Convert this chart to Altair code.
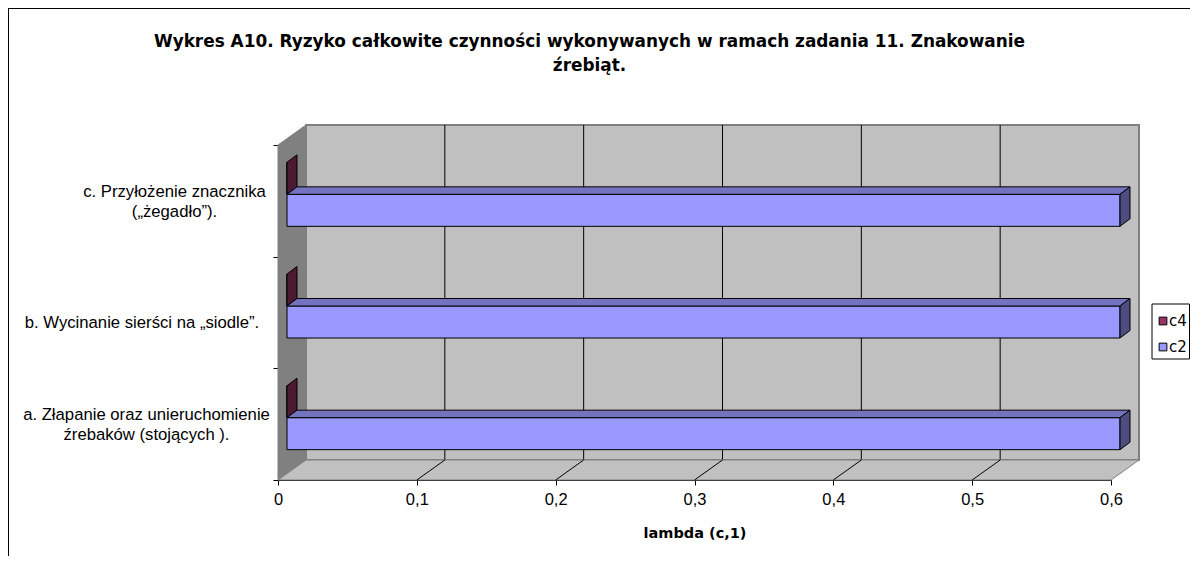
import altair as alt
import pandas as pd

# ---------------- data ----------------
categories = [
    "a. Złapanie oraz unieruchomienie\nźrebaków (stojących ).",
    "b. Wycinanie sierści na „siodle”.",
    "c. Przyłożenie znacznika\n(„żegadło”).",
]
series_names = ["c4", "c2"]
c4_values = [0.0, 0.0, 0.0]
c2_values = [0.6, 0.6, 0.6]
x_ticks = [0, 0.1, 0.2, 0.3, 0.4, 0.5, 0.6]
title_lines = [
    "Wykres A10. Ryzyko całkowite czynności wykonywanych w ramach zadania 11. Znakowanie",
    "źrebiąt.",
]
x_title = "lambda (c,1)"

# ---------------- style ----------------
FONT = "Liberation Sans"
TFONT = "DejaVu Sans"
W, H = 833, 335
XMAX = x_ticks[-1]
NCAT = len(categories)
PX = XMAX / W          # data units per pixel (x)
PY = NCAT / H          # data units per pixel (y)
WALL_DX, WALL_DY = 28, 20
BAR_OX, BAR_OY = 9, 6.5
BAR_DX, BAR_DY = 10, 7.5
BAR_H = 32
COLORS = {
    "c4": ("#993366", "#73264D", "#4D1A33"),
    "c2": ("#9999FF", "#7373BF", "#4D4D80"),
}
WALL_FILL = "#C0C0C0"
SIDE_FILL = "#808080"
EDGE = "#808080"
LABEL_CX = [-131.5, -136, -103.5]   # pixel centre of each category label block
LABEL_DY = [1, 10, 1]
LABEL_FS = 16.7
LABEL_LH = 20.5

xs = alt.Scale(domain=[0, XMAX], nice=False, zero=False)
ys = alt.Scale(domain=[0, NCAT], nice=False, zero=False)

X_AXIS = alt.Axis(
    values=x_ticks, title=x_title, grid=False,
    labelExpr="replace(format(datum.value, '~g'), '.', ',')",
    domainColor="black", tickColor="black", tickSize=5, labelPadding=6,
    labelFont=FONT, labelFontSize=16.5, labelColor="black", labelFlush=False,
    titleFont=TFONT, titleFontSize=14.5, titleFontWeight="bold", titleColor="black",
    titlePadding=19)
Y_AXIS = alt.Axis(
    values=list(range(NCAT + 1)), labels=False, title=None, grid=False,
    domainColor="black", tickColor="black", tickSize=5)


def X(field):
    return alt.X(field, scale=xs, axis=X_AXIS)


def Y(field):
    return alt.Y(field, scale=ys, axis=Y_AXIS, stack=None)


def vpara(rows, gid, x, ylo, yhi, dx, dy, fill, stroke):
    rows.append({"g": gid, "x": x, "y": ylo, "y2": yhi, "fill": fill, "stroke": stroke})
    rows.append({"g": gid, "x": x + dx, "y": ylo + dy, "y2": yhi + dy, "fill": fill, "stroke": stroke})


def hpara(rows, gid, xlo, xhi, y, dx, dy, fill, stroke):
    for xx, a, b in [(xlo, y, y), (xlo + dx, y, y + dy), (xhi, y, y + dy), (xhi + dx, y + dy, y + dy)]:
        rows.append({"g": gid, "x": xx, "y": a, "y2": b, "fill": fill, "stroke": stroke})


def area_layer(df):
    return alt.Chart(df).mark_area(strokeWidth=1, interpolate="linear", strokeJoin="miter").encode(
        x=X("x:Q"), y=Y("y:Q"), y2="y2:Q",
        fill=alt.Fill("fill:N", scale=None),
        stroke=alt.Stroke("stroke:N", scale=None),
        detail="g:N",
    )


wdx, wdy = WALL_DX * PX, WALL_DY * PY

# ---- back wall ----
back_df = pd.DataFrame({"x": [wdx], "x2": [XMAX + wdx], "y": [wdy], "y2": [NCAT + wdy]})
back = alt.Chart(back_df).mark_rect(fill=WALL_FILL, stroke=EDGE, strokeWidth=2).encode(
    x=X("x:Q"), x2="x2:Q", y=Y("y:Q"), y2="y2:Q")

# ---- back wall gridlines ----
grid_df = pd.DataFrame({"x": [v + wdx for v in x_ticks[1:-1]]})
grid_df["y"] = wdy
grid_df["y2"] = NCAT + wdy
grid = alt.Chart(grid_df).mark_rule(color="black", strokeWidth=1).encode(
    x=X("x:Q"), y=Y("y:Q"), y2="y2:Q")

# ---- side wall and floor ----
wall_rows = []
vpara(wall_rows, "side", 0, 0, NCAT, wdx, wdy, SIDE_FILL, EDGE)
hpara(wall_rows, "floor", 0, XMAX, 0, wdx, wdy, WALL_FILL, EDGE)
walls = area_layer(pd.DataFrame(wall_rows))

# ---- floor gridlines ----
fl_df = pd.DataFrame({"x": x_ticks[1:-1]})
fl_df["x2"] = fl_df["x"] + wdx
fl_df["y"] = 0.0
fl_df["y2"] = wdy
floor_grid = alt.Chart(fl_df).mark_rule(color="black", strokeWidth=1).encode(
    x=X("x:Q"), x2="x2:Q", y=Y("y:Q"), y2="y2:Q")

# ---- bars ----
bar_rows = []
front_rows = []
values = {"c4": c4_values, "c2": c2_values}
for i, cat in enumerate(categories):
    yc = i + 0.5
    for j, s in enumerate(series_names):
        v = values[s][i]
        front, top, side = COLORS[s]
        ytop = yc + (1 - j) * BAR_H * PY + BAR_OY * PY
        ybot = ytop - BAR_H * PY
        x0 = BAR_OX * PX
        x1 = v + BAR_OX * PX
        front_rows.append({"x": x0, "x2": x1, "y": ybot, "y2": ytop, "fill": front})
        if x1 - x0 > BAR_DX * PX:
            hpara(bar_rows, f"top{i}{s}", x0, x1, ytop, BAR_DX * PX, BAR_DY * PY, top, "black")
        vpara(bar_rows, f"side{i}{s}", x1, ybot, ytop, BAR_DX * PX, BAR_DY * PY, side, "black")

bar_faces = alt.Chart(pd.DataFrame(front_rows)).mark_rect(stroke="black", strokeWidth=1).encode(
    x=X("x:Q"), x2="x2:Q", y=Y("y:Q"), y2="y2:Q",
    fill=alt.Fill("fill:N", scale=None))
bar_3d = area_layer(pd.DataFrame(bar_rows))

# ---- category labels ----
lab_df = pd.DataFrame({"label": categories})
lab_df["px"] = LABEL_CX
lab_df["py"] = [H - (i + 0.5) * H / NCAT + LABEL_DY[i] - (c.count("\n")) * LABEL_LH / 2
                for i, c in enumerate(categories)]
labels = alt.Chart(lab_df).mark_text(
    align="center", baseline="middle", lineBreak="\n", lineHeight=LABEL_LH,
    font=FONT, fontSize=LABEL_FS, color="black").encode(
    x=alt.X("px:Q", scale=None), y=alt.Y("py:Q", scale=None), text="label:N")

# ---- title ----
title_df = pd.DataFrame({"t": ["\n".join(title_lines)]})
title = alt.Chart(title_df).mark_text(
    align="center", baseline="middle", lineBreak="\n", lineHeight=24,
    font=TFONT, fontSize=16.9, fontWeight="bold", color="black").encode(
    x=alt.value(311.5), y=alt.value(-103), text="t:N")

# ---- legend ----
leg_df = pd.DataFrame({"name": series_names, "color": [COLORS[s][0] for s in series_names]})
leg_df["py"] = [176 + 26 * k for k in range(len(series_names))]
leg_box = alt.Chart(pd.DataFrame({"k": [0]})).mark_rect(
    fill="white", stroke="black", strokeWidth=1).encode(
    x=alt.value(874), x2=alt.value(911.5), y=alt.value(159), y2=alt.value(214))
leg_sym = alt.Chart(leg_df).mark_square(size=60, stroke="black", strokeWidth=1, opacity=1).encode(
    x=alt.value(885), y=alt.Y("py:Q", scale=None),
    fill=alt.Fill("color:N", scale=None))
leg_txt = alt.Chart(leg_df).mark_text(
    align="left", baseline="middle", font=TFONT, fontSize=15, color="black").encode(
    x=alt.value(891), y=alt.Y("py:Q", scale=None), text="name:N")

# ---- outer border (top and left edges) ----
one = pd.DataFrame({"k": [0]})
border_top = alt.Chart(one).mark_rule(color="black", strokeWidth=1).encode(
    x=alt.value(-270), x2=alt.value(912), y=alt.value(-136.5))
border_left = alt.Chart(one).mark_rule(color="black", strokeWidth=1).encode(
    x=alt.value(-269.5), y=alt.value(-137), y2=alt.value(411))

chart = alt.layer(
    back, grid, walls, floor_grid, bar_faces, bar_3d, labels, title,
    leg_box, leg_sym, leg_txt, border_top, border_left,
).properties(
    width=W, height=H,
    autosize=alt.AutoSizeParams(type="none"),
    padding={"left": 270, "top": 137, "right": 79, "bottom": 76},
).configure_view(stroke=None)

chart.save("out.html", embed_options={"renderer": "svg", "actions": False})
